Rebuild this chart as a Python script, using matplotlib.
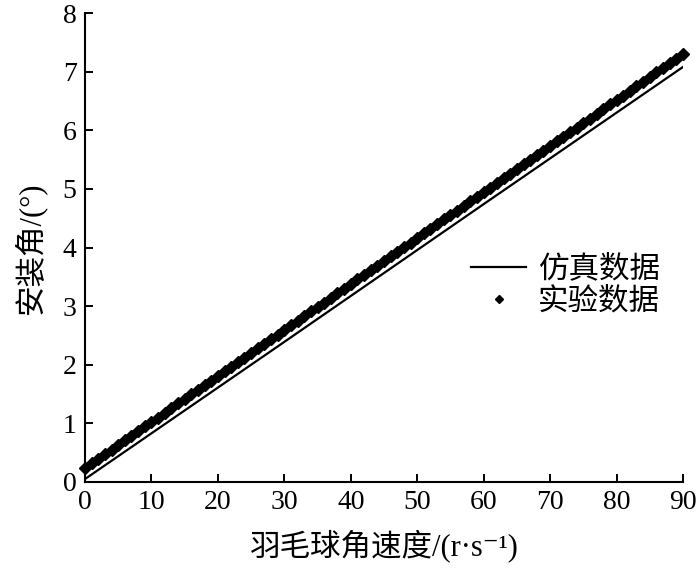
import matplotlib
matplotlib.use("Agg")
import matplotlib.pyplot as plt

plt.rcParams['font.family'] = ['Liberation Serif', 'Noto Sans CJK SC', 'DejaVu Sans']

# 仿真数据 (直线)
sim_x = [0, 30, 60, 90]
sim_y = [0.05, 2.39, 4.74, 7.08]

# 实验数据
exp_x = list(range(0, 91))
exp_y = [0.24, 0.32, 0.40, 0.48, 0.55, 0.63, 0.71, 0.79, 0.87, 0.95,
         1.02, 1.10, 1.18, 1.26, 1.34, 1.42, 1.50, 1.57, 1.65, 1.73,
         1.81, 1.89, 1.97, 2.04, 2.12, 2.20, 2.28, 2.36, 2.44, 2.51,
         2.59, 2.67, 2.75, 2.83, 2.91, 2.99, 3.06, 3.14, 3.22, 3.30,
         3.38, 3.46, 3.53, 3.61, 3.69, 3.77, 3.85, 3.93, 4.01, 4.08,
         4.16, 4.24, 4.32, 4.40, 4.48, 4.55, 4.63, 4.71, 4.79, 4.87,
         4.95, 5.02, 5.10, 5.18, 5.26, 5.34, 5.42, 5.50, 5.57, 5.65,
         5.73, 5.81, 5.89, 5.97, 6.04, 6.12, 6.20, 6.28, 6.36, 6.44,
         6.52, 6.59, 6.67, 6.75, 6.83, 6.91, 6.99, 7.06, 7.14, 7.22,
         7.30]

xticks = list(range(0, 91, 10))
yticks = list(range(0, 9))

fig = plt.figure(figsize=(7, 5.69), dpi=100)
ax = fig.add_axes([0.1214, 0.1529, 0.8543, 0.8242])

ax.plot(sim_x, sim_y, color='black', lw=1.6, label='仿真数据')
ax.plot(exp_x, exp_y, ls='none', marker='D', ms=6, color='black',
        clip_on=False, label='实验数据')

ax.set_xlim(0, 90)
ax.set_ylim(0, 8)
ax.set_xticks(xticks)
ax.set_yticks(yticks)
ax.tick_params(direction='in', length=6, width=1.4, labelsize=20, pad=6)
for s in ['top', 'right']:
    ax.spines[s].set_visible(False)
for s in ['left', 'bottom']:
    ax.spines[s].set_linewidth(1.5)

ax.set_xlabel('羽毛球角速度/(r·s⁻¹)', fontsize=22, labelpad=10)
ax.set_ylabel('安装角/(°)', fontsize=22, labelpad=12)

ax.legend(loc='center left', bbox_to_anchor=(0.62, 0.418), frameon=False,
          fontsize=22, handlelength=1.8, handletextpad=0.4, labelspacing=0.1,
          borderpad=0, markerscale=0.7)

fig.savefig('out.png', dpi=100)
